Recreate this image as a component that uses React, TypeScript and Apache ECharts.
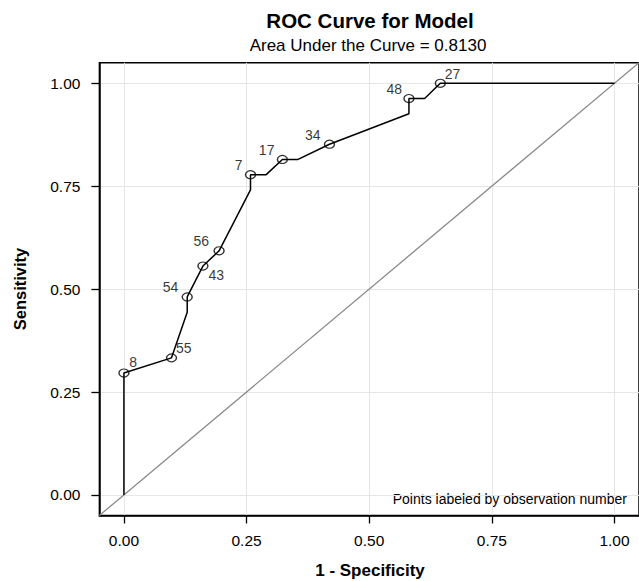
import React, { useEffect, useRef } from "react";
import * as echarts from "echarts";

// ROC curve vertices (1 - specificity, sensitivity)
const rocX = [0, 0, 0.097, 0.129, 0.129, 0.161, 0.194, 0.258, 0.258, 0.29, 0.323, 0.355, 0.419, 0.581, 0.581, 0.613, 0.645, 1.0];
const rocY = [0, 0.296, 0.333, 0.444, 0.481, 0.556, 0.593, 0.741, 0.778, 0.778, 0.815, 0.815, 0.852, 0.926, 0.963, 0.963, 1.0, 1.0];

// Labeled observations
const obsIds = ["8", "55", "54", "43", "56", "7", "17", "34", "48", "27"];
const obsX = [0, 0.097, 0.129, 0.161, 0.194, 0.258, 0.323, 0.419, 0.581, 0.645];
const obsY = [0.296, 0.333, 0.481, 0.556, 0.593, 0.778, 0.815, 0.852, 0.963, 1.0];
const obsLabelOffset: [number, number][] = [
  [10, -10], [13, -9], [-16, -9], [14, 10], [-17, -9], [-11, -9], [-15, -9], [-16, -9], [-14, -9], [13, -9],
];

const tickValues = [0, 0.25, 0.5, 0.75, 1.0];
const diagX = [-0.05, 1.05];

const FONT = "Liberation Sans";

export default function App() {
  const ref = useRef<HTMLDivElement>(null);
  useEffect(() => {
    if (!ref.current) return;
    const chart = echarts.init(ref.current, null, { renderer: "svg" });
    const axisCommon = {
      type: "value",
      min: -0.05,
      max: 1.05,
      axisLine: { show: true, onZero: false, lineStyle: { color: "#000", width: 1.5 } },
      axisTick: { show: true, customValues: tickValues, length: 8, lineStyle: { color: "#000", width: 1.3 } },
      splitLine: { show: true, lineStyle: { color: "#e6e6e6", width: 1 } },
    };
    chart.setOption({
      animation: false,
      backgroundColor: "#fff",
      grid: {
        left: 99.4, top: 62.7, width: 541.2, height: 452.8, containLabel: false,
        show: true, borderColor: "#000", borderWidth: 1.5, backgroundColor: "transparent",
      },
      xAxis: {
        ...axisCommon,
        axisLabel: {
          customValues: tickValues,
          formatter: (v: number) => v.toFixed(2),
          fontSize: 15.5,
          fontFamily: FONT,
          color: "#000",
          margin: 17,
        },
      },
      yAxis: {
        ...axisCommon,
        axisLabel: {
          customValues: tickValues,
          formatter: (v: number) => v.toFixed(2),
          fontSize: 15.5,
          fontFamily: FONT,
          color: "#000",
          margin: 19,
        },
      },
      graphic: [
        { type: "text", x: 370, y: 20, style: { text: "ROC Curve for Model", font: `bold 20.5px "${FONT}"`, fill: "#000", align: "center", verticalAlign: "middle" } },
        { type: "text", x: 368, y: 45, style: { text: "Area Under the Curve = 0.8130", font: `17px "${FONT}"`, fill: "#000", align: "center", verticalAlign: "middle" } },
        { type: "text", x: 370, y: 570, style: { text: "1 - Specificity", font: `bold 17px "${FONT}"`, fill: "#000", align: "center", verticalAlign: "middle" } },
        { type: "text", x: 20, y: 289, rotation: Math.PI / 2, style: { text: "Sensitivity", font: `bold 16.5px "${FONT}"`, fill: "#000", align: "center", verticalAlign: "middle" } },
        { type: "text", x: 627, y: 499, style: { text: "Points labeled by observation number", font: `14px "${FONT}"`, fill: "#000", align: "right", verticalAlign: "middle" } },
      ],
      series: [
        {
          type: "line",
          data: diagX.map((x) => [x, x]),
          symbol: "none",
          silent: true,
          lineStyle: { color: "#8a8a8a", width: 1.3 },
          z: 2,
        },
        {
          type: "line",
          data: rocX.map((x, i) => [x, rocY[i]]),
          symbol: "none",
          silent: true,
          lineStyle: { color: "#000", width: 1.5 },
          z: 3,
        },
        {
          type: "scatter",
          data: obsX.map((x, i) => ({
            value: [x, obsY[i]],
            label: { offset: obsLabelOffset[i] },
          })),
          symbol: "circle",
          symbolSize: [10, 8],
          itemStyle: { color: "rgba(255,255,255,0)", borderColor: "#000", borderWidth: 1.3 },
          label: {
            show: true,
            position: [5, 4],
            formatter: (p: any) => obsIds[p.dataIndex],
            fontSize: 14,
            fontFamily: FONT,
            color: "#000",
            textBorderWidth: 0,
            align: "center",
            verticalAlign: "middle",
          },
          silent: true,
          z: 4,
        },
      ],
    });
    return () => chart.dispose();
  }, []);
  return <div ref={ref} style={{ position: "absolute", left: 0, top: 0, width: 639, height: 581 }} />;
}
